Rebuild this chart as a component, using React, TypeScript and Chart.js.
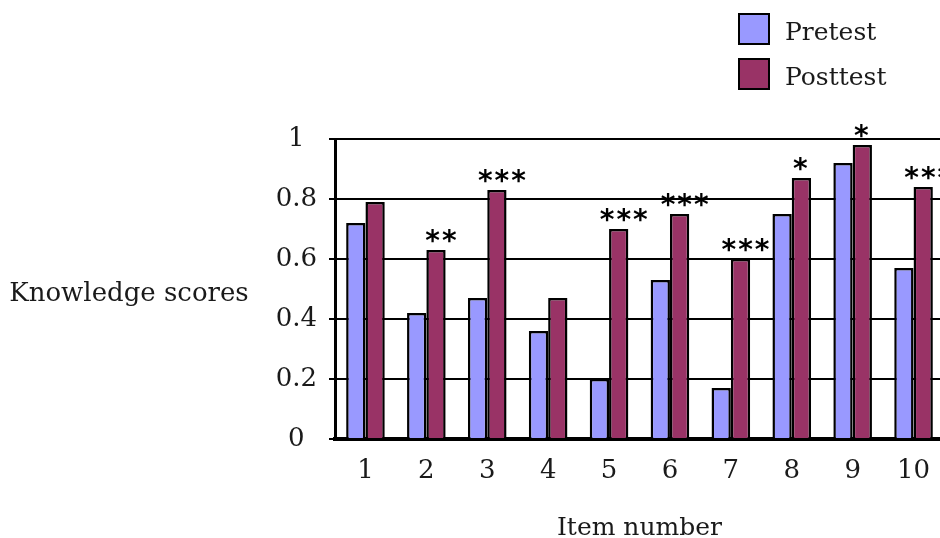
import React, { useEffect, useRef } from "react";
import { Chart, registerables } from "chart.js";

Chart.register(...registerables);

const categories = ["1", "2", "3", "4", "5", "6", "7", "8", "9", "10"];
const pretest = [0.72, 0.42, 0.47, 0.36, 0.2, 0.53, 0.17, 0.75, 0.92, 0.57];
const posttest = [0.79, 0.63, 0.83, 0.47, 0.7, 0.75, 0.6, 0.87, 0.98, 0.84];
const significance = ["", "**", "***", "", "***", "***", "***", "*", "*", "***"];
const seriesNames = ["Pretest", "Posttest"];
const seriesColors = ["#9999FF", "#993366"];
const yTitle = "Knowledge scores";
const xTitle = "Item number";
const yMin = 0;
const yMax = 1;
const yStep = 0.2;

const FONT = "'DejaVu Serif', 'Liberation Serif', serif";

const overlayPlugin = {
  id: "overlay",
  afterDatasetsDraw(chart: any) {
    const ctx = chart.ctx as CanvasRenderingContext2D;
    const meta = chart.getDatasetMeta(1);
    ctx.save();
    ctx.fillStyle = "#000";
    ctx.font = `bold 28px 'DejaVu Sans', sans-serif`;
    ctx.textAlign = "center";
    ctx.textBaseline = "middle";
    (ctx as any).letterSpacing = "2px";
    significance.forEach((s, i) => {
      if (!s) return;
      const bar = meta.data[i];
      const nudge = s.length > 1 ? 6 : 0;
      ctx.fillText(s, bar.x + nudge, bar.y - 7);
    });
    ctx.restore();
  },
  afterDraw(chart: any) {
    const ctx = chart.ctx as CanvasRenderingContext2D;
    const area = chart.chartArea;
    ctx.save();
    ctx.fillStyle = "#1a1a1a";
    ctx.font = `26px ${FONT}`;
    ctx.textBaseline = "alphabetic";
    ctx.textAlign = "center";
    ctx.fillText(yTitle, 129, 301);
    ctx.font = `25px ${FONT}`;
    ctx.fillText(xTitle, (area.left + area.right) / 2, 535);
    // legend
    ctx.textAlign = "left";
    seriesNames.forEach((name, i) => {
      const top = 14 + i * 45;
      ctx.fillStyle = seriesColors[i];
      ctx.fillRect(739, top, 30, 30);
      ctx.strokeStyle = "#000";
      ctx.lineWidth = 2;
      ctx.strokeRect(739, top, 30, 30);
      ctx.fillStyle = "#1a1a1a";
      ctx.fillText(name, 785, top + 26);
    });
    ctx.restore();
  },
};

export default function App() {
  const ref = useRef<HTMLCanvasElement>(null);
  useEffect(() => {
    if (!ref.current) return;
    const font = { family: FONT, size: 26 };
    const chart = new Chart(ref.current, {
      type: "bar",
      data: {
        labels: categories,
        datasets: [
          {
            label: seriesNames[0],
            data: pretest,
            backgroundColor: seriesColors[0],
            borderColor: "#000",
            borderWidth: 2.5,
            categoryPercentage: 0.634,
            barPercentage: 1,
          },
          {
            label: seriesNames[1],
            data: posttest,
            backgroundColor: seriesColors[1],
            borderColor: "#000",
            borderWidth: 2.5,
            categoryPercentage: 0.634,
            barPercentage: 1,
          },
        ],
      },
      options: {
        responsive: false,
        animation: false,
        layout: { padding: { top: 139, right: 16, left: 0, bottom: 0 } },
        plugins: { legend: { display: false }, tooltip: { enabled: false } },
        scales: {
          x: {
            grid: { display: false },
            border: { display: true, color: "#000", width: 4 },
            ticks: { font, color: "#1a1a1a", padding: 9 },
            afterFit: (s: any) => {
              s.height = 99;
            },
          },
          y: {
            min: yMin,
            max: yMax,
            ticks: {
              stepSize: yStep,
              font,
              color: "#1a1a1a",
              padding: 12,
              crossAlign: "center",
              callback: (v: any) => String(Math.round(Number(v) * 10) / 10),
            },
            grid: { color: "#000", lineWidth: 2, tickLength: 6 },
            border: { color: "#000", width: 3 },
            afterFit: (s: any) => {
              s.width = 335;
            },
          },
        },
      },
      plugins: [overlayPlugin],
    });
    return () => chart.destroy();
  }, []);
  return (
    <div
      style={{
        position: "fixed",
        left: 0,
        top: 0,
        width: 940,
        height: 538,
        overflow: "hidden",
        background: "#fff",
      }}
    >
      <canvas ref={ref} width={960} height={538} style={{ width: 960, height: 538, display: "block" }} />
    </div>
  );
}
